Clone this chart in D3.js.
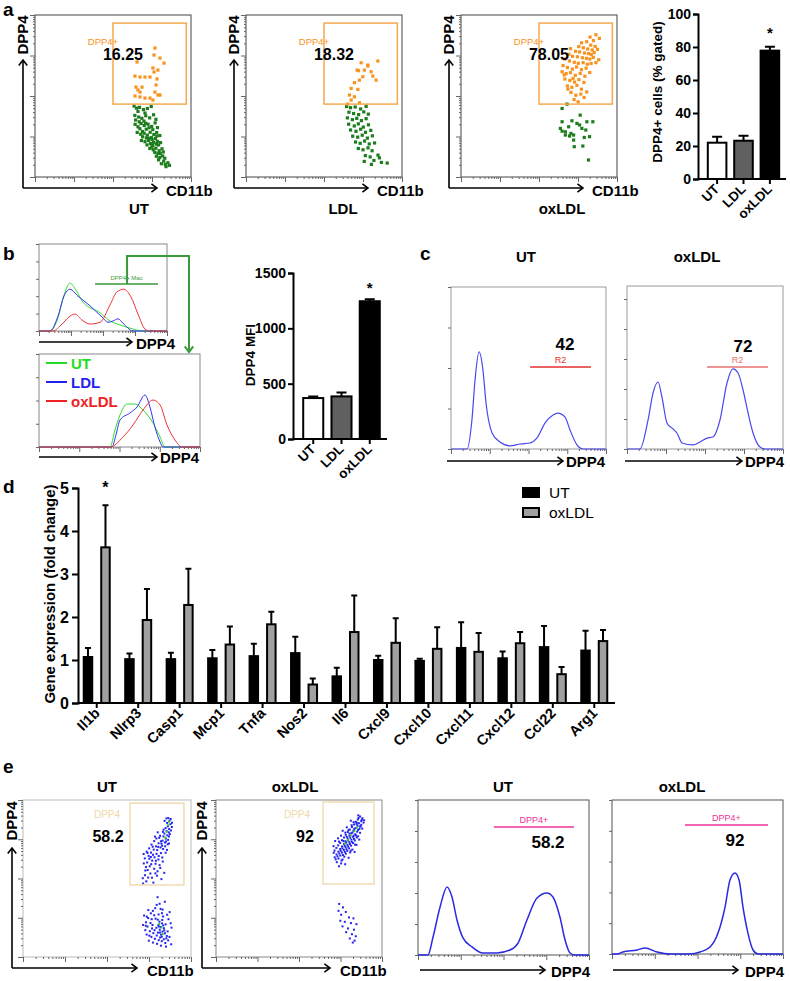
<!DOCTYPE html>
<html>
<head>
<meta charset="utf-8">
<script src="https://cdn.jsdelivr.net/npm/d3@7"></script>
<style>
  body { margin: 0; background: #fff; }
  svg { display: block; font-family: Arial, "Liberation Sans", sans-serif; }
</style>
</head>
<body>
<div id="fig"></div>
<script>
// ---------- panel a : flow plots (CD11b, DPP4 as % of axis) ----------
var aUtOrange = [[76.9,79.6],[76.3,75.3],[80.1,73.4],[82.7,70.3],[65.4,71],[78.8,66],[76.3,64.8],[75.6,67.3],
  [64.1,62.3],[67.3,61.7],[70.5,61.7],[73.7,61.7],[78.2,60.5],[64.7,55.5],[66,53.7],[67.3,52.4],[68.6,55.5],
  [76.9,52.4],[77.6,56.8],[78.8,50.6],[80.1,50.6],[64.1,50],[67.3,49.4],[70.5,48.7],[73.7,48.7],[75.6,47.5]];
var aUtGreen = [[63.5,43.8],[65,42.5],[67,43],[69.5,41.6],[72,42.3],[74.5,43.5],[66,40.5],[70.5,39.5],
  [64,38],[66.5,37],[68.5,36.2],[71,37.8],[73.5,36.5],[76,38.4],[77.5,35.6],[64.5,35.2],[69.8,34.5],
  [64.2,32.5],[66,31],[68,33],[70,31.8],[72.5,32.6],[74.8,31.2],[77,33.4],[78.5,30.5],[67.2,29.8],[71.3,29.5],[75.5,29.2],
  [65.5,27.5],[67.8,26.4],[70,27],[72,25.8],[73.8,27.6],[76.2,26.2],[78,27.4],[80,25.6],[69,24.8],[74.6,24.4],[77.2,23.8],
  [68.2,22.5],[70.5,21.8],[72.8,22.6],[74,20.6],[76,21.4],[78.4,22],[80.5,21.2],[71.8,19.8],[75.5,19.4],[79.2,19.8],[73,23.8],
  [73.6,17.6],[75.8,16.8],[77.5,17.8],[79.6,16.2],[81.4,17.4],[76.8,15.2],[78.8,14.6],[82.2,15.5],
  [77.8,12.8],[80,12],[81.8,13],[83.2,11.6],[79.2,10.6],[82.5,9.8],[81,8.2],[83.5,7.8],[85.2,8.8],[86.2,7.2],[84,6.4],
  [66.8,34.1],[70.9,33.2],[73.1,30.4],[68.9,28.1],[71.4,24.1],[75.1,23.1],[77.9,20.3],[74.8,18.5],[80.3,14.4],[78.1,25.3]];
var aLdlOrange = [[73.8,70.5],[78.1,69.1],[84.5,71.6],[71.2,66],[75.9,66],[80.2,65],[81.3,62.3],[83.4,59.8],
  [74.9,61.9],[72.7,59.8],[69.5,58.2],[67.4,54.7],[71.7,54.1],[66.3,50.6],[69.5,49.5],[67.4,47.5],[72.7,45.8],
  [65.2,45],[78.1,68.5],[72.1,65.6]];
var aLdlGreen = [[64.5,43.5],[67,42.8],[70,43.2],[73.5,42],[77,43.6],[66,40],[69,39.2],[72.2,38.5],[75.5,40.2],[78.4,38.8],
  [65,36.5],[68.2,35.4],[71,36.2],[74,34.8],[77,36],[65.8,32.6],[69.4,31.5],[72,32.8],[75.2,30.8],[78.5,32.2],
  [67,29],[70.5,28.2],[73.5,29.5],[76.6,27.6],[80,28.8],[68.4,25.2],[71.6,24.6],[74.5,25.8],[77.8,24],[81,25.4],
  [70.2,21.6],[73.2,20.8],[76,22.2],[79,20.4],[82.4,21],[72,17.6],[75,16.8],[78.2,18],[80.8,16.2],[84.6,13.5],
  [76.5,13.2],[79.6,12.4],[82,10.2],[75.8,9.6],[80.4,7.8],[86.8,9],[90.5,8.6],[85.5,11.8]];
var aOxOrange = [[86.5,87.8],[88.7,85.6],[82.7,86.4],[84.9,84.2],[77.3,82.8],[80.6,83.5],[83.2,81.4],[86,80.6],
  [75.5,80.5],[78.4,79.8],[81.2,79],[84.1,78.4],[87.5,78.8],[70.2,79.2],[73.4,77.6],[76,77.2],[79.2,76.5],[81.8,76.2],
  [83.5,75.6],[85.3,76.8],[69.2,75.8],[71.5,74.5],[74.6,74.2],[77.8,73.6],[80.4,73.2],[82.6,72.8],[84.8,73.8],[88.3,72.4],
  [66.5,72.8],[69.5,71.6],[72.6,70.8],[75.2,70.2],[78.3,70.6],[81,69.6],[83.4,70.1],[86.5,70.6],[65.4,68.8],[68.2,67.6],
  [71.4,66.6],[74.1,67.9],[77.2,66.2],[80.2,67.2],[64.8,65],[67.4,63.8],[70.2,64.4],[73.3,62.8],[76.4,63.9],[79.4,62.2],
  [66.6,60.5],[69.8,59.6],[72.8,58.6],[75.6,60.1],[78.8,58.4],[68.2,56.2],[71.1,55.4],[74.3,56.6],[77.2,54.2],[80.6,52.5],
  [70.5,52.2],[73.6,50.5],[76.8,51.2],[72.5,47.8],[75.1,46.4],[78.9,49.1],[66.1,63],[71.8,60.8],[82.5,64.5],[68.5,54.3]];
var aOxGreen = [[68,45],[64.8,42.3],[76.4,38.2],[64.8,34.1],[71.1,34.7],[74.3,33.1],[80.7,34.1],[84.5,34.1],
  [63.7,30],[66.9,27.9],[69,31],[70.5,26.9],[72.2,25.9],[66.9,25.9],[77.5,30],[80,29],[82.4,24.9],[79,24.4],
  [72.2,22.8],[78.1,19.1],[72.6,18.7],[81.7,10.5],[64.8,28.3],[76,32.1],[69.6,25.3]];
var aGroups = ["UT", "LDL", "oxLDL"];
var aGatedPct = [16.25, 18.32, 78.05];

// panel a bar chart
var pctMean = [22, 23.2, 77.8];
var pctErr = [3.6, 3, 2.4];
var pctTicks = [0, 20, 40, 60, 80, 100];

// ---------- panel b : DPP4 histograms (channel %, count %) ----------
var bTopUt = [[0,0],[8.6,0],[14.8,15],[19.5,41],[24.2,55],[28.9,47],[34.4,33],[47.7,21],[55.5,11.5],[63.3,7],[73.4,2.3],[81,0],[100,0]];
var bTopLdl = [[0,0],[8.6,0],[14.8,17],[19.5,40],[24.2,48],[30.5,40],[39.8,29],[50,15],[53.9,10],[57.8,11.5],[61.7,14],[65.6,9],[73.4,0],[100,0]];
var bTopOx = [[0,0],[10.9,0],[18,8],[24.2,17],[28.1,19.5],[33.6,12.6],[39.8,8],[47.7,10],[55.5,30],[60.9,45],[66.4,48],[71.9,39],[77.3,19.5],[82.8,2.3],[86.7,0],[100,0]];
var bBotUt = [[0,0],[44.1,0],[47.2,18.3],[50.3,34.4],[54.7,46.2],[59.6,46.2],[64.6,39.8],[70.8,25.8],[75.2,10.8],[78.3,0],[100,0]];
var bBotLdl = [[0,0],[45.3,0],[47.8,12.9],[50.3,29],[56.5,36.6],[60.9,43],[65.8,55.9],[68.9,43],[72,21.5],[75.2,5.4],[77,0],[100,0]];
var bBotOx = [[0,0],[44.1,0],[52.2,10.8],[58.4,23.7],[64.6,39.8],[70.8,50.5],[75.2,45.2],[79.5,23.7],[84.5,7.5],[88.8,0],[100,0]];
var mfiMean = [370, 385, 1245];
var mfiErr = [14, 35, 18];
var mfiTicks = [0, 500, 1000, 1500];

// ---------- panel c ----------
var cUt = [[0,0],[10.3,0],[13.5,17.9],[15.5,42.6],[18.1,59.9],[20.6,48.8],[22.6,28.4],[26.5,9.9],[31.6,4.3],[38.1,1.9],
  [44.5,3.1],[51,3.7],[55.5,6.8],[60.6,16],[65.8,21],[69,22.2],[73.5,19.8],[76.8,11.7],[81.3,2.5],[85.2,0],[100,0]];
var cOx = [[0,0],[8.3,0],[13.5,17.8],[16.7,34.4],[19.9,41.1],[22.4,31.9],[25.6,16],[29.5,12.3],[32,9.8],[35.3,3.7],
  [42.3,2.5],[46.8,4.3],[51.3,6.7],[55.1,7.4],[59.6,17.8],[64.1,40.5],[67.9,49.1],[71.2,46.6],[74.4,36.2],[77.6,22.1],
  [80.8,9.8],[85.3,1.2],[88.5,0],[100,0]];
var cPct = [42, 72];

// ---------- panel d : qPCR ----------
var genes = ["Il1b","Nlrp3","Casp1","Mcp1","Tnfa","Nos2","Il6","Cxcl9","Cxcl10","Cxcl11","Cxcl12","Ccl22","Arg1"];
var utMean = [1.07,1.02,1.02,1.04,1.09,1.16,0.62,1.0,0.98,1.28,1.04,1.3,1.22];
var utErr  = [0.21,0.13,0.15,0.19,0.29,0.38,0.2,0.1,0.05,0.6,0.16,0.49,0.46];
var oxMean = [3.62,1.93,2.28,1.36,1.83,0.43,1.65,1.4,1.26,1.19,1.39,0.67,1.44];
var oxErr  = [0.98,0.72,0.84,0.42,0.29,0.14,0.85,0.57,0.5,0.44,0.26,0.17,0.26];
var foldTicks = [0, 1, 2, 3, 4, 5];

// ---------- panel e ----------
var eUtUpper = [[86.5,88.5],[87.2,86.8],[85.8,85.4],[87.8,84.6],[86.2,83.2],[84.9,82.1],[87,81.5],[85.5,80.2],[86.8,79.4],
  [84.2,78.6],[85.9,77.5],[83.6,76.8],[85,75.4],[86.4,74.6],[83.1,74.1],[84.5,72.9],[82.4,72.2],[87.9,87.9],[88.6,82.8],
  [86.9,76.8],[80.2,79.4],[81.6,77.2],[79.4,75.5],[78.1,73.8],[80.7,72.4],[76.5,71.6],[79.2,70.5],[81.9,69.8],[75.1,69.2],
  [77.8,68.4],[83.4,68.8],[73.6,67.1],[76.2,66.5],[79.5,65.7],[82.1,66.2],[74.8,64.4],[78.3,63.5],[72.5,62.8],[80.6,62.1],
  [76.9,61.4],[73.9,60.2],[84.6,70.5],[71.8,65.6],[78.9,59.4],[81.3,58.5],[75.4,57.8],[83.2,60.8],[85.7,68.2],[74.2,55.4],
  [80.1,54.6],[72.6,52.1],[76.8,50.5],[79.7,51.8],[73.4,48.2],[82.4,49.6],[71.5,46.8],[77.6,47.4],[84.1,53.6],
  [84.3,86.7],[88.1,80.6],[83.7,81.1],[85.2,73.6],[82.8,70.9],[87.4,78.3],[81.1,75.9],[78.6,76.7],[79.9,68.1],[77.2,70.2],
  [74.1,66.3],[80.8,64.3],[82.9,63.4],[76.3,59.1],[73.2,57.3],[78.1,56.2],[75.8,53.2],[81.7,56.7],[71.9,59.6],[77.4,65.1],
  [79.1,61.3],[84.9,66.4],[86.1,71.8],[83.3,79.7],[82.1,73.7],[80.5,70.1],[76.1,63.7],[72.8,55.1],[74.5,50.6],[78.8,53.3],
  [88.7,85.5],[85.4,88.3],[86.9,72.3],[75.2,62.6],[71.3,50.2]];
var eUtLower = [[81.2,22.5],[82.8,21.4],[80.5,20.2],[82.1,19.1],[83.9,18.3],[81.4,17.4],[83,16.2],[80.3,15.5],[84.5,15.1],
  [82.2,14.2],[85.6,13.4],[81.6,12.4],[83.8,11.3],[86.4,10.6],[79.4,18.6],[84.9,20.8],[82.6,10.1],[87.2,12.8],
  [72.1,26.4],[74.5,24.8],[73.2,22.1],[75.9,21.6],[74.1,19.4],[76.8,18.2],[72.8,17.1],[75.5,16.4],[77.6,15.2],[73.6,14.3],
  [76.4,12.8],[78.5,11.6],[74.9,10.4],[77.4,9.2],[79.8,8.4],[82.1,7.2],[85.1,6.6],[88.2,8.1],[78.9,24.4],[80.7,27.1],
  [77.3,29.4],[81.9,30.6],[79.6,33.2],[83.4,25.8],[86.6,24.1],[88.4,18.7],[76.1,27.8],[84.4,35.2],[80.1,38.1],[74.6,29.9],
  [87.3,28.6],[71.5,20.4],
  [82.9,23.6],[80.9,19.4],[84.1,16.9],[81.5,15.6],[82.6,12.9],[79.6,13.7],[85.3,11.9],[83.5,20.1],[80.2,23.8],[77.1,20.4],
  [75.2,13.6],[78.3,17.1],[73.1,19.9],[86.1,16.3],[84.7,8.9],[80.8,10.7],[78.1,26.6],[82.7,27.9],[76.6,24.1],[87.9,21.5],
  [73.7,25.7],[85.8,26.9],[81.3,33.9],[78.7,31.1],[83.1,30.2]];
var eUtBright = [[86.4,84],[85.6,79.8],[84.8,76],[86.9,86.2],[82.4,18.8],[83.2,14.6],[81.1,21]];
var eOxUpper = [[86.8,89.5],[88.2,88.4],[85.4,87.6],[87.5,86.5],[84.2,86.1],[86.1,85.2],[88.9,85.6],[83.1,84.4],[85.2,83.6],
  [87.2,83.2],[81.9,82.8],[84,82.1],[86.4,81.6],[80.6,81.2],[82.8,80.5],[85.1,79.8],[79.4,79.6],[81.6,78.9],[83.9,78.2],
  [86.8,79.1],[78.2,77.8],[80.4,77.2],[82.6,76.5],[84.8,76.1],[77.1,76.1],[79.3,75.4],[81.5,74.8],[83.6,74.2],[75.9,74.4],
  [78.1,73.7],[80.3,73.1],[82.5,72.6],[74.8,72.7],[77.1,72.1],[79.2,71.4],[81.4,70.9],[73.6,71.1],[75.9,70.4],[78.1,69.8],
  [80.2,69.2],[72.5,69.5],[74.8,68.8],[77,68.2],[79.1,67.6],[71.4,67.8],[73.7,67.1],[75.9,66.5],[78.2,65.8],[72.6,65.3],
  [74.9,64.6],[77.3,63.9],[71.5,63.5],[73.8,62.7],[76.2,62.1],[72.8,60.4],[75.4,59.6],[74.1,57.8],[70.8,70.6],[82.9,85.9],
  [88.1,81.8],[84.6,71.4],[86.3,74.8],[80.8,66.6],[82.2,68.4],[76.3,80.4],[78.8,82.6],[73.5,75.6],[71.8,73.9],[89.2,87.1],
  [85.7,90.2],[81.2,86.8],[79.9,63.2],[77.8,59.1],[83.5,66.9],
  [85.9,88.6],[87.8,87.3],[84.7,84.7],[86.6,83.1],[83.3,81.6],[85.6,80.9],[82.2,79.3],[84.3,77.4],[80.9,76.1],[83.1,75.2],
  [79.6,74.2],[81.8,73.4],[78.4,72.8],[80.7,71.9],[77.5,70.7],[79.6,70.3],[76.2,69.2],[78.6,68.6],[75.1,67.6],[77.6,66.9],
  [74.3,65.9],[76.5,64.9],[73.2,64.1],[75.6,61.4],[72.1,62.2],[70.9,66.4],[81.7,83.9],[79.8,80.8],[77.9,79.2],[75.3,77.3],
  [74.1,73.5],[85.6,76.9],[83.7,71.6],[81.2,67.7],[80.4,78.6],[82.9,77.3],[84.8,85.5],[87.5,84.2],[78.8,76.5],[76.8,73.9]];
var eOxLower = [[74.2,33.8],[76.5,31.6],[73.8,29.4],[78.2,28.7],[75.4,26.9],[80.1,25.2],[82.8,24.6],[74.9,23.1],[77.6,22.4],
  [81.3,21.6],[84.6,20.9],[76.2,19.5],[79.5,18.2],[83.1,17.4],[78.4,15.8],[81.9,14.5],[84.2,13.2],[80.6,11.8],[83.5,10.4],[82.4,9.2]];
var eOxBright = [[83.4,80.2],[81.2,77.6],[79.6,74.6],[84.8,82.4],[77.8,72.2]];
var eHistUt = [[0,0],[5.8,0],[8.8,11.6],[12.9,31],[17,43.9],[19.9,37.4],[22.8,22.6],[26.3,11],[31.6,5.2],[38,1.3],[46.2,1.3],
  [53.8,3.2],[58.5,7.7],[63.7,22.6],[69.6,36.8],[75.4,40],[78.9,37.4],[83,24.5],[86,9.7],[88.9,1.3],[91.8,0],[100,0]];
var eHistOx = [[0,0],[2.9,0],[6.4,1.3],[14.6,2.6],[19.3,3.9],[26.3,1.3],[33.9,0],[45.6,0],[51.5,1.3],[57.3,4.5],[62,13.6],
  [66.1,30.5],[69,48.1],[71.9,52.6],[74.3,48.1],[76.6,30.5],[79.5,13.6],[82.5,2.6],[85.4,0],[100,0]];
var ePct = [58.2, 92];

// ======================================================================
var svg = d3.select("#fig").append("svg").attr("width", 790).attr("height", 981);

function label(t, x, y, size, opt) {
  opt = opt || {};
  var s = svg.append("text").attr("x", x).attr("y", y).text(t)
    .attr("font-size", size + "px")
    .attr("font-weight", opt.weight || "bold")
    .attr("fill", opt.fill || "#000")
    .attr("text-anchor", opt.anchor || "start");
  if (opt.rotate) s.attr("transform", `rotate(${opt.rotate},${x},${y})`);
  return s;
}

function arrow(x1, y1, x2, y2, color, w) {
  var ang = Math.atan2(y2 - y1, x2 - x1), s = 7;
  svg.append("line").attr("x1", x1).attr("y1", y1).attr("x2", x2).attr("y2", y2)
    .attr("stroke", color).attr("stroke-width", w);
  svg.append("path")
    .attr("d", `M${x2 - s * Math.cos(ang - 0.65)},${y2 - s * Math.sin(ang - 0.65)}L${x2},${y2}L${x2 - s * Math.cos(ang + 0.65)},${y2 - s * Math.sin(ang + 0.65)}`)
    .attr("fill", "none").attr("stroke", color).attr("stroke-width", w);
}

// small log-decade ticks like a cytometer axis
function logAxis(scale, side, pos, size) {
  var ax = (side === "bottom" ? d3.axisBottom(scale) : d3.axisLeft(scale))
    .tickValues(scale.ticks()).tickFormat("").tickSizeInner(size).tickSizeOuter(0);
  var a = svg.append("g")
    .attr("transform", side === "bottom" ? `translate(0,${pos})` : `translate(${pos},0)`)
    .call(ax);
  a.select(".domain").remove();
  a.selectAll(".tick line").attr("stroke", "#666")
    .filter(d => Math.abs(Math.log10(d) - Math.round(Math.log10(d))) < 1e-6)
    .attr(side === "bottom" ? "y2" : "x2", side === "bottom" ? size + 3 : -(size + 3));
}

function frame(x0, x1, y0, y1, color) {
  svg.append("rect").attr("x", x0).attr("y", y0).attr("width", x1 - x0).attr("height", y1 - y0)
    .attr("fill", "none").attr("stroke", color).attr("stroke-width", 1);
}

// ---------- panel a flow plots ----------
var aLayout = [
  {dx: 0, titleX: 139, green: aUtGreen, orange: aUtOrange},
  {dx: 211, titleX: 343, green: aLdlGreen, orange: aLdlOrange},
  {dx: 426, titleX: 562, green: aOxGreen, orange: aOxOrange}
];
aLayout.forEach(function(p, i) {
  var l = 35 + p.dx, r = 191 + p.dx, t = 15, b = 177;
  var x = d3.scaleLinear().domain([0, 100]).range([l, r]);
  var y = d3.scaleLinear().domain([0, 100]).range([b, t]);
  frame(l, r, t, b, "#444");
  logAxis(d3.scaleLog().domain([1, 1e4]).range([l, r]), "bottom", b, 2);
  logAxis(d3.scaleLog().domain([1, 1e4]).range([b, t]), "left", l, 2);
  svg.append("g").selectAll("rect").data(p.green).enter().append("rect")
    .attr("x", d => x(d[0]) - 1.6).attr("y", d => y(d[1]) - 1.6)
    .attr("width", 3.2).attr("height", 3.2).attr("fill", "#1c7d1c");
  svg.append("g").selectAll("rect").data(p.orange).enter().append("rect")
    .attr("x", d => x(d[0]) - 1.6).attr("y", d => y(d[1]) - 1.6)
    .attr("width", 3.2).attr("height", 3.2).attr("fill", "#f7931e");
  // gate
  svg.append("rect").attr("x", x(50)).attr("y", y(95)).attr("width", x(97) - x(50)).attr("height", y(45) - y(95))
    .attr("fill", "none").attr("stroke", "#f5a94e").attr("stroke-width", 1.5);
  label("DPP4+", 103 + p.dx, 45, 9.5, {weight: "normal", fill: "#f7931e", anchor: "middle"});
  label(aGatedPct[i].toFixed(2), 123 + p.dx, 60, 16, {anchor: "middle"});
  arrow(23 + p.dx, 188, 23 + p.dx, 60, "#000", 1.6);
  arrow(23 + p.dx, 188, 157 + p.dx, 188, "#000", 1.6);
  label("DPP4", 28 + p.dx, 35, 15, {anchor: "middle", rotate: -90});
  label("CD11b", 166 + p.dx, 196, 15);
  label(aGroups[i], p.titleX, 214, 15, {anchor: "middle"});
});

// ---------- bar chart helper (panels a, b) ----------
function barChart(p) {
  var x = d3.scaleBand().domain(aGroups).range([p.x0 + 3, p.x1]).padding(0.22);
  var y = d3.scaleLinear().domain([0, p.max]).range([p.yb, p.yt]);
  var fills = ["#fff", "#606060", "#000"];
  var g = svg.append("g");
  g.selectAll(".eb").data(p.mean).enter().append("path")
    .attr("d", (d, i) => {
      var cx = x(aGroups[i]) + x.bandwidth() / 2, y0 = y(d), y1 = y(d + p.err[i]);
      return `M${cx},${y0}V${y1}M${cx - 5},${y1}H${cx + 5}`;
    })
    .attr("stroke", "#000").attr("stroke-width", 2).attr("fill", "none");
  g.selectAll(".bar").data(p.mean).enter().append("rect")
    .attr("x", (d, i) => x(aGroups[i]) + 1).attr("y", d => y(d))
    .attr("width", x.bandwidth() - 2).attr("height", d => p.yb - y(d))
    .attr("fill", (d, i) => fills[i]).attr("stroke", "#000").attr("stroke-width", 2);
  var ay = g.append("g").attr("transform", `translate(${p.x0},0)`)
    .call(d3.axisLeft(y).tickValues(p.ticks).tickFormat(d3.format("d")).tickSize(5).tickPadding(2));
  ay.selectAll("path,line").attr("stroke-width", 2);
  ay.selectAll("text").attr("font-size", "14px").attr("font-weight", "bold").attr("font-family", "Arial, 'Liberation Sans', sans-serif");
  g.append("line").attr("x1", p.x0).attr("x2", p.x1).attr("y1", p.yb).attr("y2", p.yb)
    .attr("stroke", "#000").attr("stroke-width", 2);
  aGroups.forEach(function(c) {
    var cx = x(c) + x.bandwidth() / 2;
    g.append("line").attr("x1", cx).attr("x2", cx).attr("y1", p.yb).attr("y2", p.yb + 5)
      .attr("stroke", "#000").attr("stroke-width", 2);
    label(c, cx + 3, p.yb + 11, 13.5, {anchor: "end", rotate: -45});
  });
  label(p.title, p.titleX, p.titleY, 13.5, {anchor: "middle", rotate: -90});
  var sx = x("oxLDL") + x.bandwidth() / 2;
  label("*", sx, y(p.mean[2] + p.err[2]) - p.starGap, 15, {anchor: "middle"});
}

barChart({x0: 698, x1: 786, yt: 14, yb: 179, max: 100, ticks: pctTicks, mean: pctMean, err: pctErr,
  title: "DPP4+ cells (% gated)", titleX: 662, titleY: 92, starGap: 9});
barChart({x0: 293, x1: 387, yt: 273, yb: 439, max: 1500, ticks: mfiTicks, mean: mfiMean, err: mfiErr,
  title: "DPP4 MFI", titleX: 255, titleY: 355, starGap: 6});

// ---------- histogram helper ----------
function hist(p) {
  var x = d3.scaleLinear().domain([0, 100]).range([p.l, p.r]);
  var y = d3.scaleLinear().domain([0, 100]).range([p.b, p.t]);
  frame(p.l, p.r, p.t, p.b, p.frame);
  logAxis(d3.scaleLog().domain([1, 1e4]).range([p.l, p.r]), "bottom", p.b, 2);
  var ay = svg.append("g").attr("transform", `translate(${p.l},0)`)
    .call(d3.axisLeft(y).tickValues(p.yTicks).tickSize(3).tickFormat(""));
  ay.select(".domain").remove();
  ay.selectAll("line").attr("stroke", "#666");
  var line = d3.line().x(d => x(d[0])).y(d => y(d[1])).curve(d3.curveMonotoneX);
  p.curves.forEach(function(c) {
    svg.append("path").datum(c.data).attr("d", line)
      .attr("fill", "none").attr("stroke", c.color).attr("stroke-width", c.width || 1.2);
  });
  if (p.gate) {
    svg.append("line").attr("x1", x(p.gate[0])).attr("x2", x(p.gate[1]))
      .attr("y1", y(p.gate[2])).attr("y2", y(p.gate[2]))
      .attr("stroke", p.gateColor).attr("stroke-width", 1.5);
    label(p.gateText, (x(p.gate[0]) + x(p.gate[1])) / 2, y(p.gate[2]) - 4, p.gateSize || 9,
      {weight: "normal", fill: p.gateColor, anchor: "middle"});
  }
  return {x: x, y: y};
}

// ---------- panel b ----------
var hb = hist({l: 39, r: 167, t: 244, b: 331, frame: "#888", yTicks: [0, 20, 40, 60, 80, 100],
  curves: [{data: bTopUt, color: "#33dd33", width: 1}, {data: bTopLdl, color: "#3333ee", width: 1}, {data: bTopOx, color: "#ee3333", width: 1}],
  gate: [43.8, 93, 54], gateColor: "#3a9a3a", gateText: "DPP4+ Mac", gateSize: 6});
svg.append("path").attr("d", `M${hb.x(68.8)},${hb.y(54)}V256H189V351`)
  .attr("fill", "none").attr("stroke", "#3a9a3a").attr("stroke-width", 2);
arrow(189, 340, 189, 352, "#3a9a3a", 2);
arrow(39, 342, 132, 342, "#000", 1.6);
label("DPP4", 136, 349, 15);

hist({l: 39, r: 200, t: 354, b: 447, frame: "#888", yTicks: [0, 25, 50, 75, 100],
  curves: [{data: bBotUt, color: "#33dd33", width: 1}, {data: bBotLdl, color: "#3333ee", width: 1}, {data: bBotOx, color: "#ee3333", width: 1}]});
[["UT", "#22dd22"], ["LDL", "#2222ee"], ["oxLDL", "#ee2222"]].forEach(function(d, i) {
  var yy = 363 + i * 19;
  svg.append("line").attr("x1", 46).attr("x2", 67).attr("y1", yy).attr("y2", yy).attr("stroke", d[1]).attr("stroke-width", 2);
  label(d[0], 71, yy + 6, 15, {fill: d[1]});
});
arrow(39, 457, 157, 457, "#000", 1.6);
label("DPP4", 160, 463, 15);

label("a", 3, 16, 19);
label("b", 3, 260, 19);
label("c", 420, 260, 19);
label("d", 3, 493, 19);
label("e", 3, 773, 19);

// ---------- panel c ----------
hist({l: 451, r: 606, t: 287, b: 449, frame: "#999", yTicks: [0, 25, 50, 75, 100],
  curves: [{data: cUt, color: "#4848ee"}], gate: [51, 90.3, 50.6], gateColor: "#e53030", gateText: "R2"});
hist({l: 627, r: 783, t: 286, b: 449, frame: "#999", yTicks: [0, 18.4, 36.8, 55.2, 73.6, 92],
  curves: [{data: cOx, color: "#4848ee"}], gate: [51.3, 90.4, 50.3], gateColor: "#e87070", gateText: "R2"});
label(cPct[0], 565, 350, 17, {anchor: "middle"});
label(cPct[1], 743, 352, 17, {anchor: "middle"});
label("UT", 526, 262, 15, {anchor: "middle"});
label("oxLDL", 697, 262, 15, {anchor: "middle"});
arrow(447, 461, 563, 461, "#000", 1.6);
label("DPP4", 566, 467, 15);
arrow(625, 461, 742, 461, "#000", 1.6);
label("DPP4", 745, 467, 15);

// ---------- panel d ----------
(function() {
  var x = d3.scaleBand().domain(genes).range([76, 615]);
  var sub = d3.scaleBand().domain(["UT", "oxLDL"]).range([-14, 14]).paddingInner(0.4);
  var y = d3.scaleLinear().domain([0, 5]).range([703, 488]);
  var g = svg.append("g");
  var series = [
    {key: "UT", mean: utMean, err: utErr, fill: "#000"},
    {key: "oxLDL", mean: oxMean, err: oxErr, fill: "#a0a0a0"}
  ];
  series.forEach(function(s) {
    g.append("g").selectAll("path").data(genes).enter().append("path")
      .attr("d", (d, i) => {
        var cx = x(d) + x.bandwidth() / 2 + sub(s.key) + sub.bandwidth() / 2;
        var y0 = y(s.mean[i]), y1 = y(s.mean[i] + s.err[i]);
        return `M${cx},${y0}V${y1}M${cx - 3},${y1}H${cx + 3}`;
      })
      .attr("stroke", "#000").attr("stroke-width", 2).attr("fill", "none");
    g.append("g").selectAll("rect").data(genes).enter().append("rect")
      .attr("x", (d) => x(d) + x.bandwidth() / 2 + sub(s.key) + 1)
      .attr("y", (d, i) => y(s.mean[i]))
      .attr("width", sub.bandwidth() - 2)
      .attr("height", (d, i) => 703 - y(s.mean[i]))
      .attr("fill", s.fill).attr("stroke", "#000").attr("stroke-width", 2);
  });
  var ay = g.append("g").attr("transform", "translate(78,0)")
    .call(d3.axisLeft(y).tickValues(foldTicks).tickFormat(d3.format("d")).tickSize(6).tickPadding(3));
  ay.selectAll("path,line").attr("stroke-width", 2);
  ay.selectAll("text").attr("font-size", "16px").attr("font-weight", "bold").attr("font-family", "Arial, 'Liberation Sans', sans-serif");
  var ax = g.append("g").attr("transform", "translate(0,703)")
    .call(d3.axisBottom(x).tickSize(5).tickSizeOuter(0).tickFormat(""));
  ax.select(".domain").attr("d", "M78,0H615");
  ax.selectAll("path,line").attr("stroke-width", 2);
  genes.forEach(function(gn) {
    label(gn, x(gn) + x.bandwidth() / 2 + 4, 714, 14.5, {anchor: "end", rotate: -45});
  });
  label("Gene expression (fold change)", 55, 594, 15, {anchor: "middle", rotate: -90});
  var sx = x(genes[0]) + x.bandwidth() / 2 + sub("oxLDL") + sub.bandwidth() / 2;
  label("*", sx, y(oxMean[0] + oxErr[0]) - 12, 16, {anchor: "middle"});
  // legend
  series.forEach(function(s, i) {
    svg.append("rect").attr("x", 523).attr("y", 488 + i * 20).attr("width", 16).attr("height", 9)
      .attr("fill", s.fill).attr("stroke", "#000").attr("stroke-width", 2);
    label(s.key, 549, 498 + i * 20, 15.5, {weight: "normal"});
  });
})();

// ---------- panel e scatter ----------
[
  {l: 23, r: 191, ax: 12, tip: 137, title: "UT", titleX: 107, upper: eUtUpper, lower: eUtLower, bright: eUtBright,
   gate: [63.7, 95.8, 45.9, 98], gx: 107, px: 108, pct: ePct[0], frameC: "#bbb"},
  {l: 216, r: 382, ax: 202, tip: 330, title: "oxLDL", titleX: 295, upper: eOxUpper, lower: eOxLower, bright: eOxBright,
   gate: [64.5, 95.2, 46.5, 98.7], gx: 297, px: 305, pct: ePct[1], frameC: "#888"}
].forEach(function(p) {
  var t = 800, b = 957;
  var x = d3.scaleLinear().domain([0, 100]).range([p.l, p.r]);
  var y = d3.scaleLinear().domain([0, 100]).range([b, t]);
  frame(p.l, p.r, t, b, p.frameC);
  logAxis(d3.scaleLog().domain([1, 1e4]).range([p.l, p.r]), "bottom", b, 2);
  logAxis(d3.scaleLog().domain([1, 1e4]).range([b, t]), "left", p.l, 2);
  svg.append("g").selectAll("rect").data(p.upper.concat(p.lower)).enter().append("rect")
    .attr("x", d => x(d[0]) - 1).attr("y", d => y(d[1]) - 1)
    .attr("width", 2).attr("height", 2).attr("fill", "#2424f0");
  svg.append("g").selectAll("rect").data(p.bright).enter().append("rect")
    .attr("x", d => x(d[0]) - 1).attr("y", d => y(d[1]) - 1)
    .attr("width", 2).attr("height", 2).attr("fill", "#33cc33");
  svg.append("rect").attr("x", x(p.gate[0])).attr("y", y(p.gate[3]))
    .attr("width", x(p.gate[1]) - x(p.gate[0])).attr("height", y(p.gate[2]) - y(p.gate[3]))
    .attr("fill", "none").attr("stroke", "#f0dcb4").attr("stroke-width", 1.5);
  label("DPP4", p.gx, 818, 10, {weight: "normal", fill: "#f0d8a8", anchor: "middle"});
  label(p.pct, p.px, 842, 16, {anchor: "middle"});
  label(p.title, p.titleX, 792, 15, {anchor: "middle"});
  arrow(p.ax, 968, p.ax, 848, "#000", 1.6);
  arrow(p.ax, 968, p.tip, 968, "#000", 1.6);
  label("DPP4", p.ax + 5, 821, 15, {anchor: "middle", rotate: -90});
  label("CD11b", p.tip + 10, 976, 15);
});

// ---------- panel e histograms ----------
hist({l: 418, r: 589, t: 800, b: 955, frame: "#555", yTicks: [0, 20, 40, 60, 80, 100],
  curves: [{data: eHistUt, color: "#2a2ae0", width: 1.5}], gate: [44.4, 91.2, 82.6], gateColor: "#ee3399", gateText: "DPP4+"});
hist({l: 612, r: 783, t: 800, b: 954, frame: "#555", yTicks: [0, 20, 40, 60, 80, 100],
  curves: [{data: eHistOx, color: "#2a2ae0", width: 1.5}], gate: [42.7, 91.2, 83.8], gateColor: "#ee3399", gateText: "DPP4+"});
label(ePct[0], 548, 848, 17, {anchor: "middle"});
label(ePct[1], 735, 846, 17, {anchor: "middle"});
label("UT", 503, 792, 15, {anchor: "middle"});
label("oxLDL", 682, 792, 15, {anchor: "middle"});
arrow(420, 970, 545, 970, "#000", 1.6);
label("DPP4", 551, 977, 15);
arrow(613, 970, 738, 970, "#000", 1.6);
label("DPP4", 745, 977, 15);
</script>
</body>
</html>
